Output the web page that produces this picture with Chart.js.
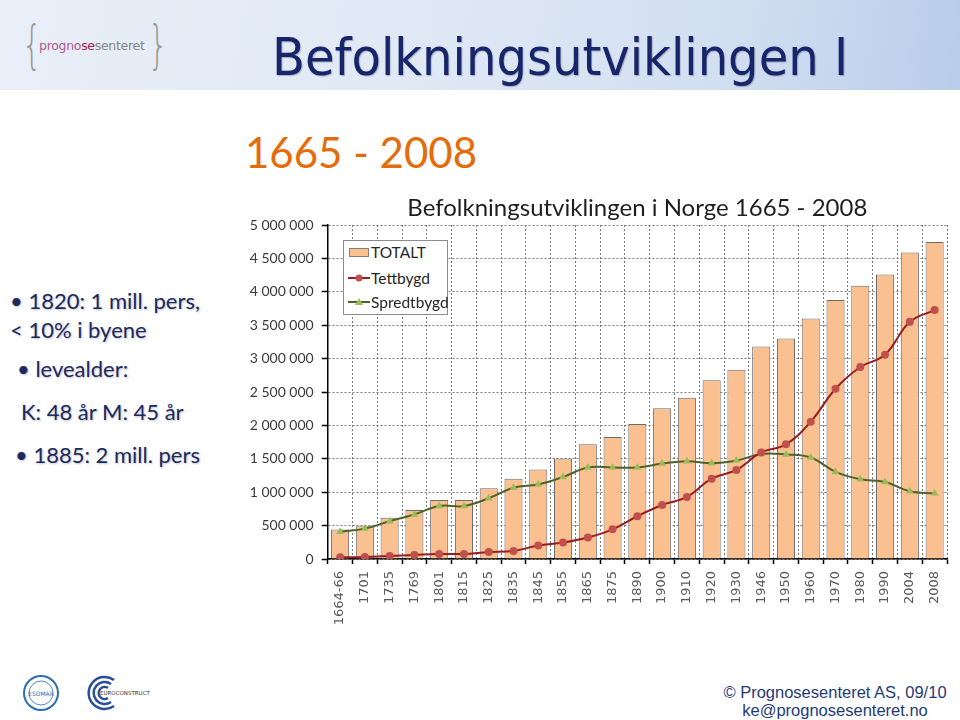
<!DOCTYPE html>
<html lang="no">
<head>
<meta charset="utf-8">
<title>Befolkningsutviklingen I</title>
<script src="https://cdn.jsdelivr.net/npm/chart.js@4.4.1/dist/chart.umd.min.js"></script>
<style>
  html, body { margin: 0; padding: 0; background: #fff; }
  #slide { position: relative; width: 960px; height: 720px; overflow: hidden; background: #fff; font-family: Lato, sans-serif; }
  #band { position: absolute; left: 0; top: 0; width: 960px; height: 90px;
          background: linear-gradient(100deg, #e9eff8 0%, #dfe8f5 45%, #d2dff1 75%, #b9cdea 100%); }
  #hdr { position: absolute; left: 272px; top: 27px; font-family: "DejaVu Sans", sans-serif; font-size: 52px;
         line-height: 60px; color: #17266a; white-space: nowrap; transform-origin: 0 0;
         text-shadow: 1px 1px 1px rgba(0,0,30,0.25); }
  #logo { position: absolute; left: 20px; top: 18px; height: 56px; white-space: nowrap; color: #8a8a8a; }
  #logo .br { position: absolute; top: -4px; font-family: "DejaVu Sans", sans-serif; font-size: 52px; font-weight: 200; color: #9a9a9a; line-height: 60px; transform: scaleX(0.6); transform-origin: 0 0; }
  #logo .tx { position: absolute; left: 19px; top: 20px; font-family: "DejaVu Sans", sans-serif; font-size: 12.5px; letter-spacing: -0.3px; }
  #years { position: absolute; left: 245px; top: 126px; font-size: 42px; line-height: 52px; color: #e46c0a; white-space: nowrap; }
  .bl { position: absolute; font-size: 22px; line-height: 26px; color: #1c2a5e; white-space: nowrap;
        text-shadow: 1px 1px 2px rgba(0,0,40,0.25); }
  #wrap { position: absolute; left: 235px; top: 190px; width: 725px; height: 445px; background: #fff; }
  #legend { position: absolute; left: 108px; top: 50px; width: 105px; height: 75px; background: #fff;
            border: 1px solid #8c8c8c; box-sizing: border-box; font-size: 15.5px; color: #262626; }
  #legend .row { position: absolute; left: 0; height: 20px; width: 100%; }
  #legend svg { position: absolute; left: 3px; top: 0; }
  #legend span { position: absolute; left: 27px; top: 0; line-height: 20px; white-space: nowrap; }
  #foot { position: absolute; left: 700px; top: 683px; width: 270px; text-align: center;
          font-family: "Liberation Sans Narrow", "Arial Narrow", sans-serif; font-size: 16.5px; line-height: 18px; color: #1f3a7a; }
</style>
</head>
<body>
<div id="slide">
  <div id="band"></div>
  <div id="logo">
    <span class="br" style="left:2px">{</span>
    <span class="tx"><span style="color:#b05a90">progno</span><span style="color:#a02050">se</span><span style="color:#858585">senteret</span></span>
    <span class="br" style="left:128px">}</span>
  </div>
  <div id="hdr">Befolkningsutviklingen I</div>
  <div id="years">1665 - 2008</div>

  <div class="bl" style="left:10px; top:288px">• 1820: 1 mill. pers,</div>
  <div class="bl" style="left:10px; top:317px">&lt; 10% i byene</div>
  <div class="bl" style="left:17px; top:356px">• levealder:</div>
  <div class="bl" style="left:21px; top:399px">K: 48 år M: 45 år</div>
  <div class="bl" style="left:15px; top:442px">• 1885: 2 mill. pers</div>

  <div id="wrap">
    <canvas id="chart" width="725" height="445"></canvas>
    <div id="legend">
      <div class="row" style="top:1px">
        <svg width="24" height="20"><rect x="2.5" y="6.5" width="19" height="8" fill="#fac090" stroke="#7f7f7f"/></svg>
        <span>TOTALT</span>
      </div>
      <div class="row" style="top:27px">
        <svg width="24" height="20"><line x1="1" y1="10" x2="23" y2="10" stroke="#9b1b1f" stroke-width="2"/><circle cx="12" cy="10" r="3.5" fill="#c0504d"/></svg>
        <span>Tettbygd</span>
      </div>
      <div class="row" style="top:51px">
        <svg width="24" height="20"><line x1="1" y1="10" x2="23" y2="10" stroke="#4f6228" stroke-width="2"/><polygon points="12,6 16,13 8,13" fill="#9bbb59"/></svg>
        <span>Spredtbygd</span>
      </div>
    </div>
  </div>

  <svg style="position:absolute; left:18px; top:672px" width="140" height="44">
    <circle cx="23" cy="21" r="17" fill="none" stroke="#2a6fb5" stroke-width="2"/>
    <circle cx="23" cy="21" r="12" fill="none" stroke="#2a6fb5" stroke-width="0.8"/>
    <text x="23" y="23.5" text-anchor="middle" font-family="DejaVu Sans" font-size="6" fill="#2a6fb5">ESOMAR</text>
    <path d="M 96 8 A 16 16 0 1 0 96 34" fill="none" stroke="#2a4f9a" stroke-width="2.5"/>
    <path d="M 93 12 A 11 11 0 1 0 93 30" fill="none" stroke="#2a4f9a" stroke-width="2.5"/>
    <path d="M 90 16 A 6 6 0 1 0 90 26" fill="none" stroke="#2a4f9a" stroke-width="2.5"/>
    <text x="82" y="23" font-family="DejaVu Sans" font-size="5.5" fill="#333">EUROCONSTRUCT</text>
  </svg>

  <div id="foot">© Prognosesenteret AS, 09/10<br>ke@prognosesenteret.no</div>
</div>

<script>
// Befolkningsutviklingen i Norge 1665 - 2008 (verdier lest av figuren)
const kategorier = ['1664-66', '1701', '1735', '1769', '1801', '1815', '1825', '1835', '1845', '1855',
  '1865', '1875', '1890', '1900', '1910', '1920', '1930', '1946', '1950', '1960',
  '1970', '1980', '1990', '2004', '2008'];

const totalt = [440000, 490000, 616000, 732000, 884000, 885000, 1060000, 1202000, 1338000, 1505000,
  1717000, 1828000, 2020000, 2258000, 2414000, 2677000, 2833000, 3180000, 3300000, 3600000,
  3877000, 4092000, 4258000, 4589000, 4744000];

const tettbygd = [25000, 30000, 45000, 61000, 76000, 76000, 106000, 121000, 202000, 247000,
  323000, 444000, 640000, 808000, 929000, 1202000, 1333000, 1596000, 1717000, 2056000,
  2548000, 2874000, 3059000, 3550000, 3726000];

const spredtbygd = [409000, 455000, 566000, 667000, 793000, 793000, 909000, 1066000, 1116000, 1227000,
  1369000, 1369000, 1370000, 1429000, 1465000, 1434000, 1475000, 1571000, 1566000, 1520000,
  1304000, 1194000, 1154000, 1013000, 983000];

const yMaks = 5000000;
const ySteg = 500000;

// Overskrift: strekk/krymp til samme bredde som originalen
const hdr = document.getElementById('hdr');
hdr.style.transform = `scaleX(${576 / hdr.offsetWidth})`;

const mellomrom = v => String(v).replace(/\B(?=(\d{3})+(?!\d))/g, ' ');

new Chart(document.getElementById('chart'), {
  type: 'bar',
  data: {
    labels: kategorier,
    datasets: [
      {
        type: 'line',
        label: 'Tettbygd',
        data: tettbygd,
        order: 1,
        borderColor: '#9b1b1f',
        borderWidth: 2,
        tension: 0.4,
        pointRadius: 4,
        pointBackgroundColor: '#c0504d',
        pointBorderColor: '#c0504d',
        pointBorderWidth: 0,
      },
      {
        type: 'line',
        label: 'Spredtbygd',
        data: spredtbygd,
        order: 2,
        borderColor: '#4f6228',
        borderWidth: 2,
        tension: 0.4,
        pointStyle: 'triangle',
        pointRadius: 4.5,
        pointBackgroundColor: '#9bbb59',
        pointBorderColor: '#9bbb59',
        pointBorderWidth: 0,
      },
      {
        label: 'TOTALT',
        data: totalt,
        order: 3,
        backgroundColor: '#fac090',
        borderColor: '#6b6b6b',
        borderWidth: 1,
        barPercentage: 0.73,
        categoryPercentage: 1,
      },
    ],
  },
  options: {
    responsive: false,
    animation: false,
    layout: { padding: { top: 0, right: 13, bottom: 0, left: 0 } },
    plugins: {
      legend: { display: false },
      tooltip: { enabled: false },
      title: {
        display: true,
        fullSize: false,
        text: 'Befolkningsutviklingen i Norge 1665 - 2008',
        color: '#1e1e1e',
        font: { family: 'Lato', size: 24, weight: 'normal' },
        padding: { top: 4, bottom: 2.2 },
      },
    },
    scales: {
      x: {
        afterFit: s => { s.height = 76; },
        grid: { offset: true, color: '#7a7a7a', lineWidth: 1, tickColor: '#000', tickLength: 5, tickWidth: 1.5 },
        border: { color: '#000', width: 1.5, dash: [2, 2] },
        ticks: {
          autoSkip: false, minRotation: 90, maxRotation: 90, padding: 7,
          color: '#5a5a5a', font: { family: 'DejaVu Sans', size: 13 },
        },
      },
      y: {
        min: 0,
        max: yMaks,
        afterFit: s => { s.width = 92.7; },
        grid: { color: '#7a7a7a', lineWidth: 1, tickColor: '#000', tickLength: 6, tickWidth: 1.5 },
        border: { color: '#000', width: 1.5, dash: [2, 2] },
        ticks: {
          stepSize: ySteg, padding: 8,
          color: '#3a3a3a', font: { family: 'Lato', size: 14 },
          callback: v => mellomrom(v),
        },
      },
    },
  },
});
</script>
</body>
</html>
